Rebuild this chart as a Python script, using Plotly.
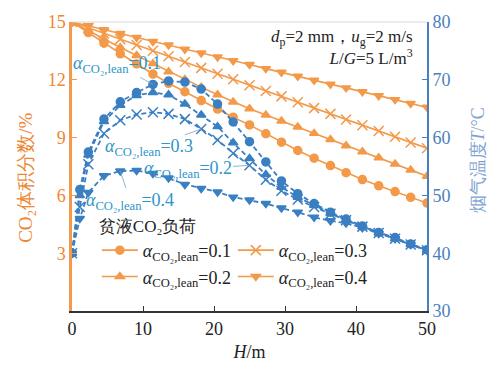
import plotly.graph_objects as go

# ---------------- data ----------------
H_co2 = [0, 2.3, 4.5, 6.8, 9.1, 11.4, 13.6, 15.9, 18.2, 20.5, 22.7, 25,
         27.3, 29.5, 31.8, 34.1, 36.4, 38.6, 40.9, 43.2, 45.5, 47.7, 50]
co2_01 = [15, 14.45, 13.9, 13.35, 12.82, 12.3, 11.82, 11.38, 10.92, 10.48, 10.06, 9.66,
          9.2, 8.76, 8.33, 7.93, 7.55, 7.18, 6.82, 6.5, 6.2, 5.9, 5.6]
co2_02 = [15, 14.55, 14.1, 13.68, 13.26, 12.84, 12.42, 12.02, 11.62, 11.22, 10.85, 10.5,
          10.17, 9.86, 9.55, 9.22, 8.9, 8.58, 8.27, 7.95, 7.63, 7.32, 7.0]
co2_03 = [15, 14.7, 14.41, 14.11, 13.81, 13.51, 13.22, 12.92, 12.62, 12.31, 12.03, 11.72,
          11.42, 11.14, 10.83, 10.53, 10.23, 9.94, 9.64, 9.34, 9.04, 8.75, 8.45]
co2_04 = [15, 14.8, 14.6, 14.4, 14.19, 13.99, 13.8, 13.59, 13.39, 13.18, 12.99, 12.79,
          12.58, 12.39, 12.18, 11.98, 11.77, 11.58, 11.38, 11.17, 10.97, 10.77, 10.57]

H_T = [0, 1.1, 2.3, 4.5, 6.8, 9.1, 11.4, 13.6, 15.9, 18.2, 20.5, 22.7, 25,
       27.3, 29.5, 31.8, 34.1, 36.4, 38.6, 40.9, 43.2, 45.5, 47.7, 50]
T_01 = [40, 51, 57.5, 63.2, 66.2, 67.8, 69.2, 69.8, 69.6, 68.4, 65.8, 62.7, 59.3,
        55.8, 52.5, 50.3, 48.6, 47.1, 45.9, 44.7, 43.6, 42.7, 41.6, 40.6]
T_02 = [40, 50, 57, 62.8, 65.6, 67.3, 67.8, 67.4, 65.8, 63.9, 61.9, 59.1, 56.4,
        53.6, 51.4, 49.7, 48.3, 46.9, 45.7, 44.6, 43.5, 42.5, 41.5, 40.5]
T_03 = [40, 48, 55.4, 60.7, 63, 64, 64.4, 64.1, 63.2, 61.5, 59.6, 57.3, 55.2,
        52.7, 50.8, 49.3, 48.0, 46.8, 45.7, 44.6, 43.5, 42.5, 41.5, 40.5]
T_04 = [40, 46, 50.5, 53.4, 54.2, 54.3, 53.8, 53.0, 51.9, 51.2, 50.6, 49.7, 49.2,
        48.6, 47.8, 47.1, 46.2, 45.6, 45.2, 44.4, 43.4, 42.5, 41.5, 40.5]

loads = ["0.1", "0.2", "0.3", "0.4"]
x_ticks = [0, 10, 20, 30, 40, 50]
y_ticks = [3, 6, 9, 12, 15]
y2_ticks = [30, 40, 50, 60, 70, 80]

# ---------------- styles ----------------
ORANGE = "#f39a4a"
ORANGE_TXT = "#ee8633"
BLUE = "#3a7fc1"
BLUE_AX = "#4a7fbf"
BLUE_LBL = "#2f95c8"
SERIF = "Liberation Serif"

def lab(v):
    return "<i>α</i><sub>CO₂,lean</sub>=" + v

fig = go.Figure()

# blue temperature curves (right axis)
blue_specs = [(T_01, "circle"), (T_02, "triangle-up"), (T_03, "x-thin-open"), (T_04, "triangle-down")]
for (T, sym), v in zip(blue_specs, loads):
    fig.add_trace(go.Scatter(
        x=H_T, y=T, yaxis="y2", mode="lines+markers", showlegend=False,
        line=dict(color=BLUE, width=1.8, dash="5px,3px"),
        marker=dict(symbol=sym, size=8 if sym != "x-thin-open" else 10, color=BLUE,
                    line=dict(color=BLUE, width=1.5)),
        name="T " + v))

# orange CO2 curves (left axis); order chosen for 2-column legend
orange_specs = {"0.1": (co2_01, "circle"), "0.2": (co2_02, "triangle-up"),
                "0.3": (co2_03, "x-thin-open"), "0.4": (co2_04, "triangle-down")}
for v in ["0.1", "0.3", "0.2", "0.4"]:
    y, sym = orange_specs[v]
    fig.add_trace(go.Scatter(
        x=H_co2, y=y, mode="lines+markers", name=lab(v),
        line=dict(color=ORANGE, width=1.6),
        marker=dict(symbol=sym, size=8 if sym != "x-thin-open" else 10, color=ORANGE,
                    line=dict(color=ORANGE, width=1.5))))

# ---------------- annotations ----------------
ann = []
def pointer(v, H, T, ax, ay):
    ann.append(dict(x=H, y=T, xref="x", yref="y2", text=lab(v), showarrow=True,
                    arrowhead=0, arrowwidth=0.8, arrowcolor="#7f9fbf", ax=ax, ay=ay,
                    font=dict(family=SERIF, size=18, color=BLUE_LBL)))

pointer("0.1", H_T[6], T_01[6], -36, -20)
pointer("0.3", H_T[9], T_03[9], -52, 19)
pointer("0.2", H_T[12], T_03[12], -62, 4)
pointer("0.4", H_T[4], T_04[4], 10, 30)

ann.append(dict(xref="paper", yref="paper", x=0.965, y=0.99, xanchor="right", yanchor="top",
                align="right", showarrow=False,
                text="<i>d</i><sub>p</sub>=2 mm，<i>u</i><sub>g</sub>=2 m/s<br><i>L</i>/<i>G</i>=5 L/m<sup>3</sup>",
                font=dict(family=SERIF, size=17, color="#222")))

# axis titles placed like the reference
ann.append(dict(xref="paper", yref="paper", x=-0.133, y=0.46, xanchor="center", yanchor="middle",
                textangle=-90, showarrow=False, text="CO₂体积分数/%",
                font=dict(family=SERIF, size=19, color=ORANGE_TXT)))
ann.append(dict(xref="paper", yref="paper", x=1.143, y=0.52, xanchor="center", yanchor="middle",
                textangle=-90, showarrow=False, text="烟气温度<i>T</i>/°C",
                font=dict(family=SERIF, size=18, color="#7fa3cf")))

fig.update_layout(
    width=489, height=371,
    margin=dict(l=72, r=62, t=18, b=58),
    paper_bgcolor="white", plot_bgcolor="white",
    font=dict(family=SERIF, size=17, color="#222"),
    annotations=ann,
    shapes=[dict(type="line", xref="paper", yref="paper", x0=0, x1=1, y0=1, y1=1,
                 line=dict(color="#d8d8d8", width=1))],
    xaxis=dict(range=[0, 50], tickvals=x_ticks, ticks="inside", ticklen=5,
               showline=True, linecolor="#333", linewidth=2, tickcolor="#333",
               showgrid=False, zeroline=False,
               tickfont=dict(family=SERIF, size=18, color="#222"),
               title=dict(text="<i>H</i>/m", font=dict(family=SERIF, size=18, color="#222"),
                          standoff=8)),
    yaxis=dict(range=[0, 15], tickvals=y_ticks, ticks="inside", ticklen=5,
               showline=True, linecolor=ORANGE, linewidth=2.5, tickcolor=ORANGE,
               showgrid=False, zeroline=False,
               tickfont=dict(family=SERIF, size=18, color=ORANGE_TXT)),
    yaxis2=dict(range=[30, 80], tickvals=y2_ticks, overlaying="y", side="right",
                ticks="inside", ticklen=5, showline=True, linecolor=BLUE_AX, linewidth=2,
                tickcolor=BLUE_AX, showgrid=False, zeroline=False,
                tickfont=dict(family=SERIF, size=18, color=BLUE_AX)),
    legend=dict(orientation="h", x=0.07, y=0.35, xanchor="left", yanchor="top",
                bgcolor="rgba(0,0,0,0)", entrywidth=85, entrywidthmode="pixels",
                font=dict(family=SERIF, size=18, color="#222"),
                title=dict(text="贫液CO₂负荷", side="top",
                           font=dict(family=SERIF, size=17, color="#222")),
                tracegroupgap=0, itemwidth=36),
)

fig.write_html("out.html")
